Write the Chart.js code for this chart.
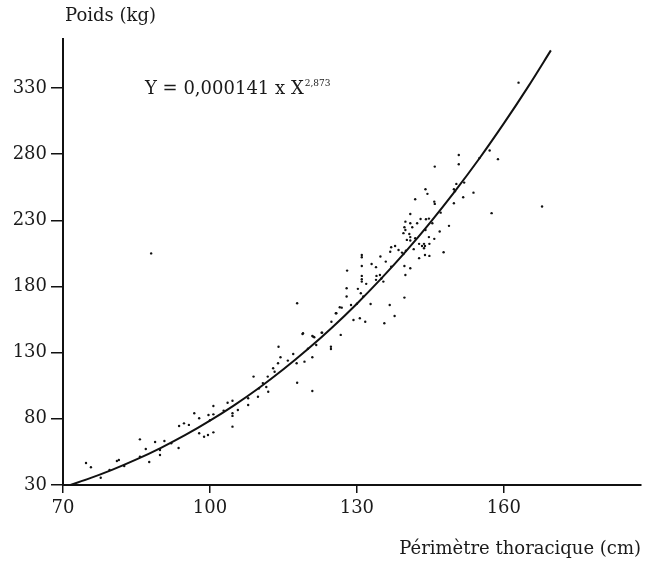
<!DOCTYPE html>
<html>
<head>
<meta charset="utf-8">
<script src="https://cdn.jsdelivr.net/npm/chart.js@4"></script>
<style>
  body { margin: 0; background: #fff; }
  canvas { display: block; }
</style>
</head>
<body>
<canvas id="chart" width="654" height="564"></canvas>
<script>
// mesures individuelles (périmètre thoracique en cm, poids en kg)
const perimetre = [
  74.7, 75.7, 77.7, 79.5, 81.0, 81.4, 82.5, 85.7, 85.7, 86.9, 87.6, 88.8, 89.8, 89.8,
  90.7, 92.1, 93.6, 93.7, 94.7, 95.7, 96.8, 97.8, 97.8, 98.8, 99.6, 100.7, 99.7, 100.7,
  100.7, 102.8, 103.6, 104.6, 104.6, 104.6, 104.6, 105.7, 107.8, 107.8, 108.9, 109.8,
  110.8, 111.5, 111.9, 111.8, 112.9, 113.2, 113.9, 114.0, 114.4, 115.9, 117.0, 117.8,
  117.7, 117.8, 119.3, 120.9, 120.9, 118.9, 120.9, 121.3, 121.7, 122.8, 124.7, 124.7,
  124.8, 125.7, 126.5, 126.7, 150.8, 150.8, 145.9, 150.3, 149.8, 151.9, 153.8, 151.7,
  149.8, 144.0, 144.4, 141.9, 145.8, 145.9, 147.1, 140.9, 139.9, 140.9, 143.0, 144.1,
  144.7, 142.3, 145.4, 139.7, 139.9, 141.3, 144.0, 146.9, 148.8, 139.5, 140.7, 140.9,
  141.9, 140.2, 140.9, 144.7, 145.8, 142.7, 143.3, 143.7, 143.9, 143.7, 144.8, 147.7,
  137.0, 137.8, 136.8, 138.5, 139.2, 139.5, 141.6, 143.9, 144.8, 142.7, 134.8, 131.0,
  131.0, 131.0, 133.0, 133.9, 137.0, 135.9, 139.7, 140.9, 139.9, 128.0, 131.0, 131.0,
  131.0, 134.0, 134.7, 133.9, 135.4, 131.9, 127.9, 130.2, 127.9, 130.8, 131.3, 128.8,
  132.8, 126.9, 125.8, 136.7, 137.7, 139.7, 129.3, 130.6, 131.7, 135.6, 119.0, 121.1,
  122.9, 163.0, 157.5, 158.8, 167.8, 157.1, 88.0,
  100.0, 110.0, 120.0, 130.0, 135.0, 140.0, 150.0, 155.0
];
const poids = [
  46.6, 43.4, 35.5, 41.3, 48.1, 48.9, 44.4, 51.4, 64.5, 57.2, 47.4, 62.5, 56.5, 52.7,
  63.3, 61.5, 58.0, 74.6, 76.6, 75.4, 84.2, 80.4, 69.1, 66.5, 67.8, 69.8, 82.9, 89.7,
  83.4, 86.2, 92.2, 93.7, 84.2, 82.2, 74.1, 86.7, 95.5, 90.5, 111.9, 96.7,
  107.0, 104.0, 100.5, 111.9, 118.2, 115.6, 122.0, 134.5, 126.5, 124.0, 129.0, 167.3,
  122.0, 107.3, 123.2, 126.5, 101.0, 144.1, 142.6, 141.6, 135.8, 145.1, 134.5, 132.8,
  153.4, 159.8, 164.3, 143.4, 279.4, 272.4, 270.6, 257.5, 253.5, 258.5, 250.9, 247.4,
  242.9, 253.5, 250.0, 245.9, 244.1, 242.4, 235.8, 234.8, 229.0, 227.8, 231.0, 230.8,
  231.3, 227.8, 227.8, 224.8, 222.7, 224.8, 222.7, 221.5, 225.8, 220.3, 219.7, 217.3,
  216.5, 215.2, 214.7, 217.3, 216.0, 212.2, 210.6, 212.2, 210.6, 208.9, 212.2, 205.9,
  209.6, 210.6, 206.3, 207.6, 205.6, 204.6, 208.2, 203.8, 203.1, 201.4, 202.6, 203.8,
  202.1, 195.5, 197.0, 194.6, 195.0, 198.8, 195.5, 193.8, 188.7, 192.0, 188.0, 185.5,
  183.7, 188.0, 188.7, 185.0, 183.7, 182.0, 178.7, 178.2, 172.4, 174.9, 172.4, 166.0,
  166.8, 164.0, 159.8, 166.0, 157.7, 171.6, 154.7, 156.0, 153.4, 152.2, 144.7, 142.1,
  145.1, 334.0, 235.4, 276.2, 240.4, 282.7, 205.0,
  79.0, 103.0, 133.0, 167.0, 186.0, 207.0, 252.0, 277.0
];

// courbe d'ajustement Y = 0,000141 x X^2,873
const courbeX = [70, 75, 80, 85, 90, 95, 100, 105, 110, 115, 120, 125, 130, 135, 140, 145, 150, 155, 160, 165, 169.6];
const courbeY = [28.2, 34.4, 41.4, 49.3, 58.1, 67.8, 78.6, 90.4, 103.3, 117.4, 132.7, 149.2, 167.0, 186.1, 206.5, 228.5, 251.9, 276.7, 303.2, 331.2, 358.4];

const xTicks = [70, 100, 130, 160];
const yTicks = [30, 80, 130, 180, 230, 280, 330];

const police = "'DejaVu Serif', serif";

const textes = {
  id: 'textes',
  afterDraw(chart) {
    const ctx = chart.ctx;
    ctx.save();
    ctx.fillStyle = '#1a1a1a';
    ctx.textBaseline = 'middle';
    ctx.font = `18px ${police}`;
    ctx.textAlign = 'left';
    ctx.fillText('Poids (kg)', 65, 16);

    ctx.textAlign = 'right';
    ctx.fillText('Périmètre thoracique (cm)', 641, 549);

    ctx.textAlign = 'left';
    const eq = 'Y = 0,000141 x X';
    ctx.fillText(eq, 145, 89);
    const w = ctx.measureText(eq).width;
    ctx.font = `9px ${police}`;
    ctx.fillText('2,873', 145 + w + 1, 84);
    ctx.restore();
  }
};

const axe = (longueur) => ({
  drawOnChartArea: false,
  drawTicks: true,
  tickLength: longueur,
  color: '#111',
  lineWidth: 1.5
});

new Chart(document.getElementById('chart'), {
  type: 'scatter',
  data: {
    datasets: [
      {
        type: 'line',
        data: courbeX.map((x, i) => ({ x, y: courbeY[i] })),
        borderColor: '#111',
        borderWidth: 2,
        pointRadius: 0,
        cubicInterpolationMode: 'monotone',
        fill: false
      },
      {
        data: perimetre.map((x, i) => ({ x, y: poids[i] })),
        backgroundColor: '#111',
        borderWidth: 0,
        pointRadius: 1.2
      }
    ]
  },
  options: {
    responsive: false,
    animation: false,
    layout: { padding: { top: 39, right: 13, left: 0, bottom: 0 } },
    plugins: { legend: { display: false }, tooltip: { enabled: false } },
    scales: {
      x: {
        type: 'linear',
        min: 70,
        max: 188,
        afterBuildTicks: (s) => { s.ticks = xTicks.map(v => ({ value: v })); },
        afterFit: (s) => { s.height = 79; },
        grid: axe(8),
        border: { display: true, color: '#111', width: 2 },
        ticks: { color: '#1a1a1a', font: { family: police, size: 18 }, padding: 5, autoSkip: false, maxRotation: 0 }
      },
      y: {
        type: 'linear',
        min: 30,
        max: 367,
        afterBuildTicks: (s) => { s.ticks = yTicks.map(v => ({ value: v })); },
        afterFit: (s) => { s.width = 63; },
        grid: axe(12),
        border: { display: true, color: '#111', width: 2 },
        ticks: { color: '#1a1a1a', font: { family: police, size: 18 }, padding: 4, autoSkip: false }
      }
    }
  },
  plugins: [textes]
});
</script>
</body>
</html>
